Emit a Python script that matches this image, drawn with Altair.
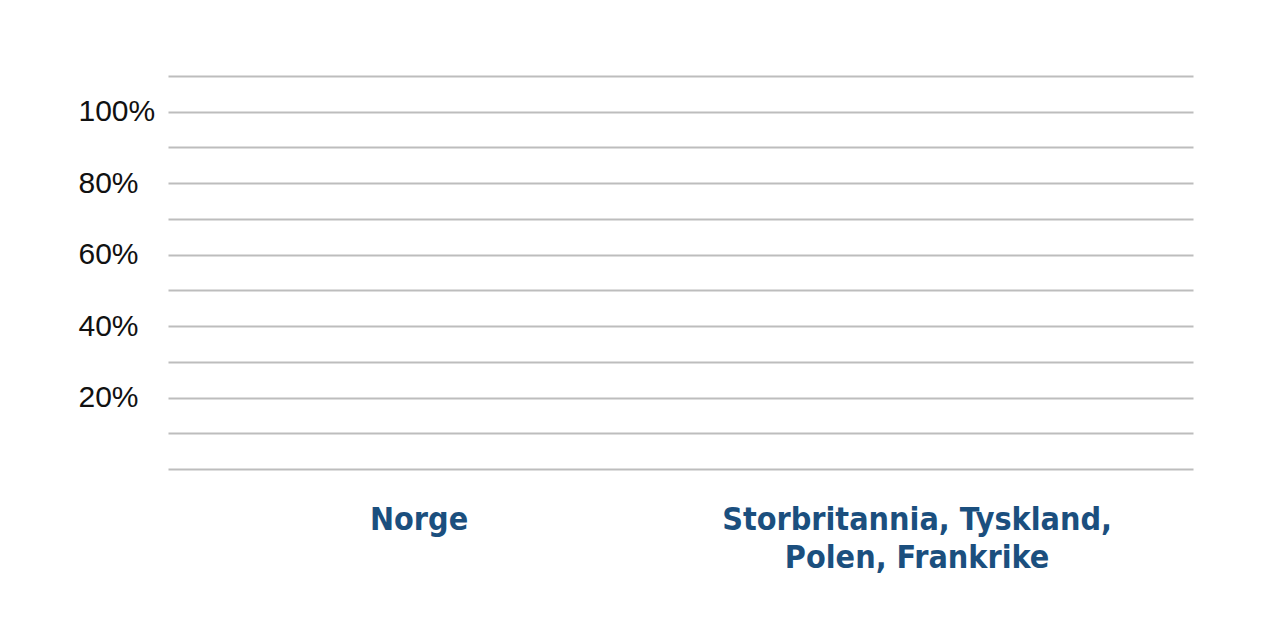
import altair as alt
import pandas as pd

categories = ["Norge", "Storbritannia, Tyskland, Polen, Frankrike"]
values = [0.0, 0.0]
grid_ticks = [0, 0.1, 0.2, 0.3, 0.4, 0.5, 0.6, 0.7, 0.8, 0.9, 1.0, 1.1]

df = pd.DataFrame({"kategori": categories, "andel": values})

chart = alt.Chart(df).mark_bar(color="#1b4f7e").encode(
    x=alt.X(
        "kategori:N",
        sort=categories,
        title=None,
        scale=alt.Scale(paddingInner=0, paddingOuter=0.029, align=0.07),
        axis=alt.Axis(
            labelAngle=0,
            labelFont="DejaVu Sans Condensed",
            labelFontWeight="bold",
            labelFontSize=32,
            labelColor="#1b4f7e",
            labelPadding=35,
            labelLineHeight=38,
            labelBaseline="top",
            labelLimit=0,
            labelExpr="datum.label == 'Norge' ? 'Norge' : ['Storbritannia, Tyskland,', 'Polen, Frankrike']",
            ticks=False,
            domain=False,
            grid=False,
        ),
    ),
    y=alt.Y(
        "andel:Q",
        title=None,
        scale=alt.Scale(domain=[0, 1.1], nice=False, zero=True),
        axis=alt.Axis(
            values=grid_ticks,
            labelExpr="(round(datum.value*10) % 2 == 0 && datum.value > 0) ? format(datum.value, '.0%') : ''",
            labelFont="Liberation Sans",
            labelFontSize=30,
            labelColor="#111111",
            labelAlign="left",
            labelPadding=90,
            ticks=False,
            domain=False,
            grid=True,
            gridColor="#bdbdbd",
            gridWidth=2,
        ),
    ),
).properties(
    width=1025,
    height=393,
    autosize=alt.AutoSizeParams(type="none"),
    padding={"left": 160, "top": 68, "right": 71, "bottom": 147},
).configure_view(stroke=None)

chart.save("out.html", embed_options={"renderer": "svg", "actions": False})
